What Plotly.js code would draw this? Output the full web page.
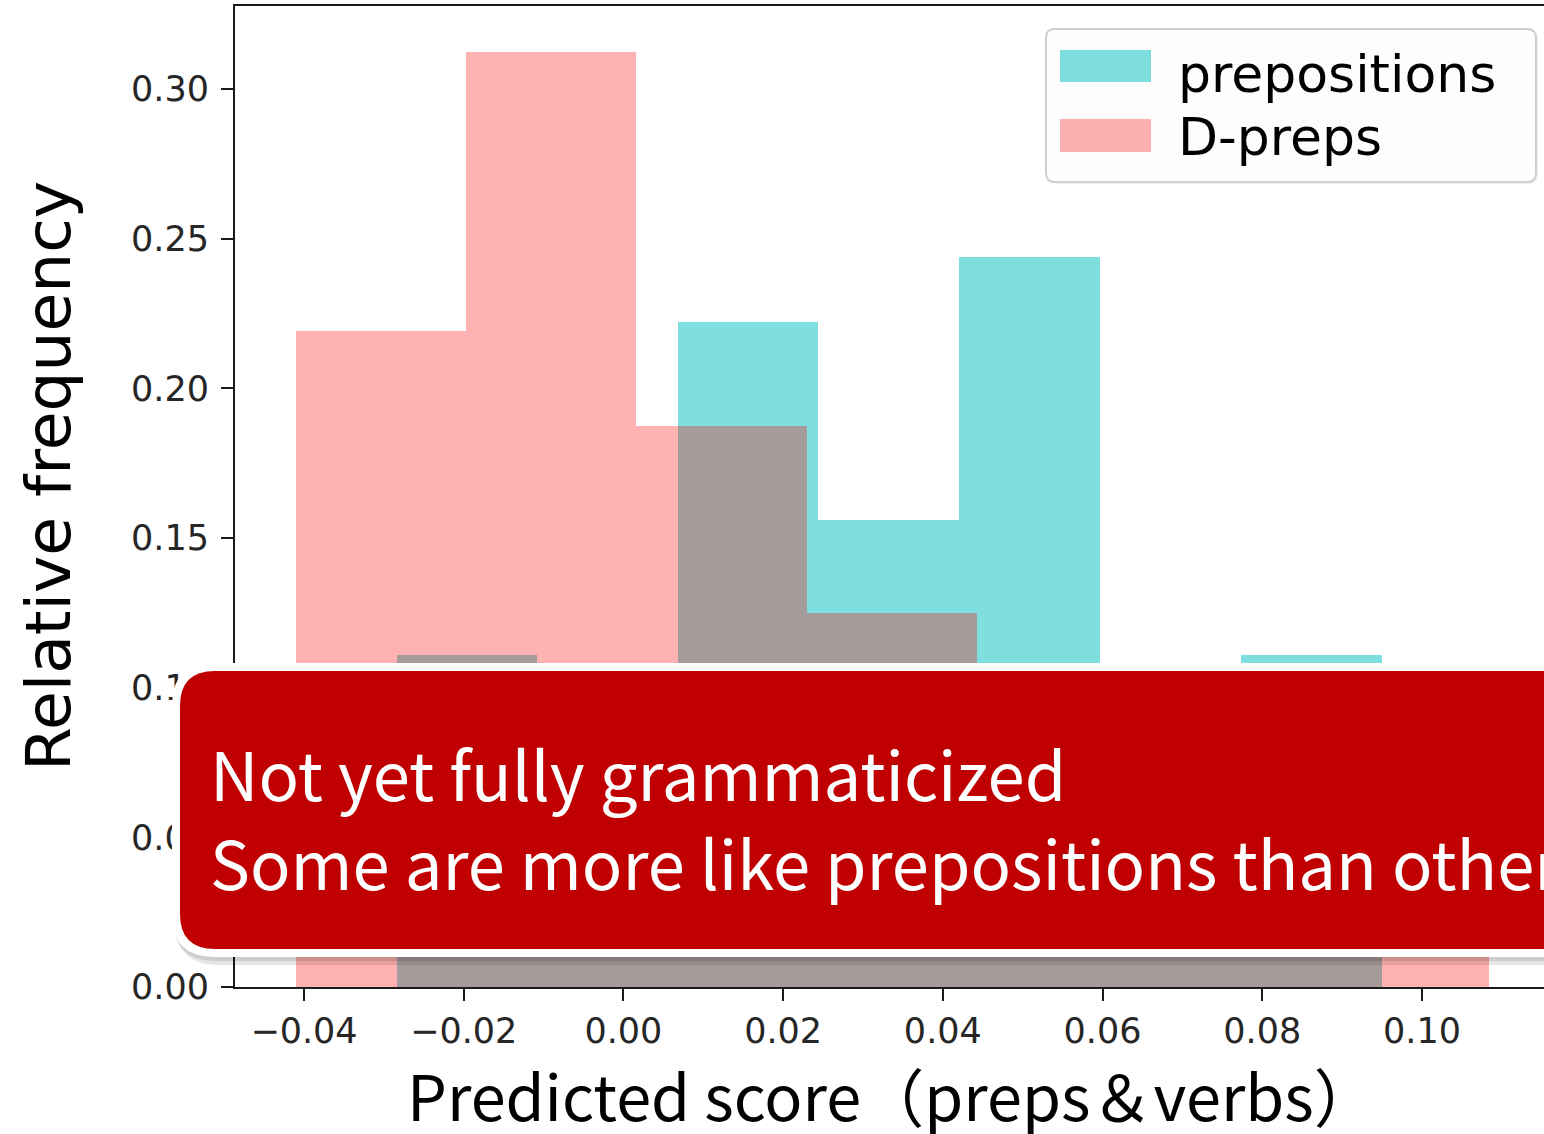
<!DOCTYPE html>
<html>
<head>
<meta charset="utf-8">
<script src="https://cdn.plot.ly/plotly-3.0.1.min.js"></script>
<style>html,body{margin:0;padding:0;background:#fff;}#chart{width:1544px;height:1134px;}</style>
</head>
<body>
<div id="chart"></div>
<script>
// ---- data ----
const seriesNames = ["prepositions", "D-preps"];
const prepEdges = [-0.0284, -0.0108, 0.0068, 0.0244, 0.0420, 0.0597, 0.0773, 0.0950];
const prepFreq  = [0.111, 0.089, 0.222, 0.156, 0.244, 0.067, 0.111];
const dprepEdges = [-0.0410, -0.0197, 0.0016, 0.0230, 0.0443, 0.0657, 0.0870, 0.1084];
const dprepFreq  = [0.219, 0.3125, 0.1875, 0.125, 0.0625, 0.0625, 0.03125];
const xTitle = "Predicted score（preps＆verbs）";
const yTitle = "Relative frequency";
const boxLines = ["Not yet fully grammaticized", "Some are more like prepositions than others"];

// ---- helpers ----
function centers(e){ const c=[]; for(let i=0;i<e.length-1;i++) c.push((e[i]+e[i+1])/2); return c; }
function widths(e){ const w=[]; for(let i=0;i<e.length-1;i++) w.push(e[i+1]-e[i]); return w; }

const TEAL = "rgba(0,191,191,0.5)";
const PINK = "rgba(255,0,0,0.3)";

const traces = [
  {type:"bar", name:seriesNames[0], x:centers(prepEdges), y:prepFreq, width:widths(prepEdges),
   marker:{color:TEAL, line:{width:0}}, showlegend:false, hoverinfo:"x+y"},
  {type:"bar", name:seriesNames[1], x:centers(dprepEdges), y:dprepFreq, width:widths(dprepEdges),
   marker:{color:PINK, line:{width:0}}, showlegend:false, hoverinfo:"x+y"}
];

// plot-area pixel frame
const L=235, R=1544, T=6, B=987;
const px = x => (x-L)/(R-L);
const py = y => (B-y)/(B-T);
function rr(x0,y0,x1,y1,r){
  const P=(x,y)=>px(x).toFixed(5)+","+py(y).toFixed(5);
  return "M"+P(x0+r,y0)+" L"+P(x1-r,y0)+" Q"+P(x1,y0)+" "+P(x1,y0+r)+
         " L"+P(x1,y1-r)+" Q"+P(x1,y1)+" "+P(x1-r,y1)+
         " L"+P(x0+r,y1)+" Q"+P(x0,y1)+" "+P(x0,y1-r)+
         " L"+P(x0,y0+r)+" Q"+P(x0,y0)+" "+P(x0+r,y0)+" Z";
}
function rect(x0,y0,x1,y1,fill){
  return {type:"rect", xref:"paper", yref:"paper", x0:px(x0), x1:px(x1), y0:py(y1), y1:py(y0),
          fillcolor:fill, line:{width:0}, layer:"above"};
}
function pathShape(d, fill, line){
  return {type:"path", xref:"paper", yref:"paper", path:d, fillcolor:fill,
          line: line || {width:0}, layer:"above"};
}

const shapes = [
  // legend frame
  pathShape(rr(1048,31,1538,184,9), "rgba(0,0,0,0.06)"),
  pathShape(rr(1046,29,1536,182,9), "rgba(255,255,255,0.85)", {color:"#cfcfcf", width:2}),
  rect(1060,50,1151,82,TEAL),
  rect(1060,119,1151,152,PINK),
  // callout box: shadow, white rim, red body
  pathShape(rr(175,668,1640,965,44), "rgba(0,0,0,0.10)"),
  pathShape(rr(173,666,1630,961,43), "rgba(0,0,0,0.10)"),
  pathShape(rr(172,663,1620,957,42), "#ffffff"),
  pathShape(rr(180,671,1612,949,35), "#c00000")
];

const annotations = [
  {xref:"paper", yref:"paper", x:px(1176), y:py(74), xanchor:"left", yanchor:"middle",
   text:seriesNames[0], showarrow:false, font:{family:"DejaVu Sans", size:52, color:"#000"}},
  {xref:"paper", yref:"paper", x:px(1176), y:py(137), xanchor:"left", yanchor:"middle",
   text:seriesNames[1], showarrow:false, font:{family:"DejaVu Sans", size:52, color:"#000"}},
  {xref:"paper", yref:"paper", x:px(208), y:py(771), xanchor:"left", yanchor:"middle",
   text:boxLines[0], showarrow:false, font:{family:"Noto Sans CJK JP", size:67, color:"#fff"}},
  {xref:"paper", yref:"paper", x:px(208), y:py(860), xanchor:"left", yanchor:"middle",
   text:boxLines[1], showarrow:false, font:{family:"Noto Sans CJK JP", size:67, color:"#fff"}},
  // axis titles
  {xref:"paper", yref:"paper", x:px(48), y:py(476), xanchor:"center", yanchor:"middle",
   textangle:-90, text:yTitle, showarrow:false, font:{family:"DejaVu Sans", size:63, color:"#000"}},
  {xref:"paper", yref:"paper", x:px(892), y:py(1093), xanchor:"center", yanchor:"middle",
   text:xTitle, showarrow:false, font:{family:"Noto Sans CJK JP", size:63, color:"#000"}}
];

const axCommon = {
  showline:true, linewidth:2, linecolor:"#1a1a1a", ticks:"outside", ticklen:12, tickwidth:2,
  tickcolor:"#1a1a1a", showgrid:false, zeroline:false, tickformat:".2f", tick0:0,
  tickfont:{family:"DejaVu Sans", size:35, color:"#262626"}
};

const layout = {
  width:1544, height:1134,
  margin:{l:L, r:1544-R, t:T, b:1134-B, pad:0},
  paper_bgcolor:"#ffffff", plot_bgcolor:"#ffffff",
  barmode:"overlay", bargap:0, showlegend:false,
  xaxis:Object.assign({}, axCommon, {range:[-0.04864, 0.11528], dtick:0.02, mirror:true}),
  yaxis:Object.assign({}, axCommon, {range:[0, 0.32773], dtick:0.05, mirror:false, ticklabelstandoff:5}),
  shapes:shapes, annotations:annotations
};

Plotly.newPlot("chart", traces, layout, {displayModeBar:false, staticPlot:true});
</script>
</body>
</html>
